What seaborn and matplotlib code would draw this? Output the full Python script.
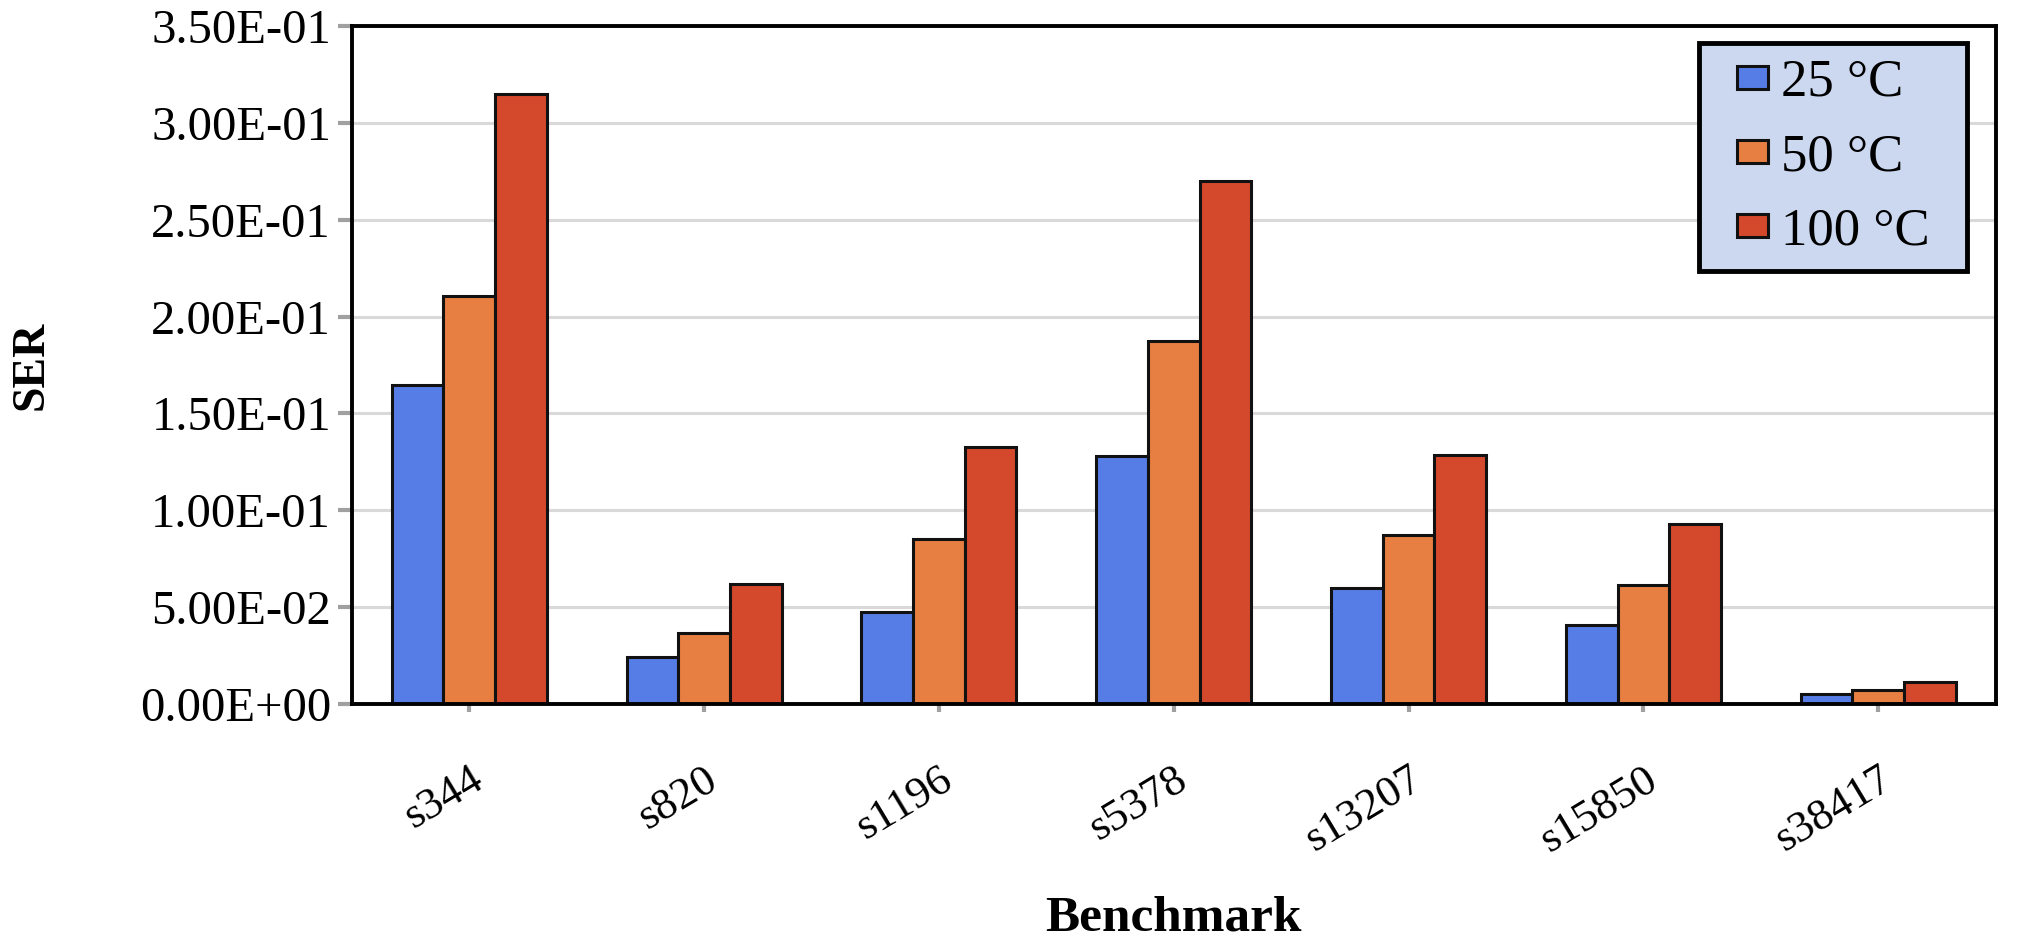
import pandas as pd
import matplotlib
matplotlib.use("Agg")
import matplotlib.pyplot as plt
from matplotlib.patches import Rectangle
from matplotlib.legend_handler import HandlerPatch
from matplotlib.transforms import IdentityTransform
from matplotlib.ticker import FuncFormatter, MultipleLocator
import seaborn as sns

# Data
benchmarks = ["s344", "s820", "s1196", "s5378", "s13207", "s15850", "s38417"]
temps = ["25 °C", "50 °C", "100 °C"]
ser_25 = [0.1647, 0.0240, 0.0473, 0.1280, 0.0600, 0.0407, 0.0053]
ser_50 = [0.2107, 0.0367, 0.0853, 0.1873, 0.0873, 0.0613, 0.0073]
ser_100 = [0.3147, 0.0620, 0.1327, 0.2700, 0.1287, 0.0927, 0.0113]
colors = ["#567de6", "#e67f41", "#d4482c"]

# Long format for seaborn
df = pd.DataFrame({
    "Benchmark": benchmarks * 3,
    "Temp": [temps[0]] * 7 + [temps[1]] * 7 + [temps[2]] * 7,
    "SER": ser_25 + ser_50 + ser_100,
})

sns.set_style("white", {"text.color": "black", "axes.labelcolor": "black"})
plt.rcParams["font.family"] = ["Liberation Serif", "DejaVu Serif"]

fig = plt.figure(figsize=(20.22, 9.49), dpi=100)
ax = fig.add_axes([0.174, 0.2582, 0.813, 0.7144])

sns.barplot(data=df, x="Benchmark", y="SER", hue="Temp", hue_order=temps,
            palette=colors, width=0.66, saturation=1,
            edgecolor="#111111", linewidth=2.2, ax=ax)

# Axes styling
ax.set_ylim(0, 0.35)
ax.set_xlim(-0.5, len(benchmarks) - 0.5)
ax.yaxis.set_major_locator(MultipleLocator(0.05))
ax.yaxis.set_major_formatter(FuncFormatter(lambda v, p: f"{v:.2E}"))
ax.yaxis.grid(True, color="#d9d9d9", linewidth=2.2)
ax.set_axisbelow(True)

for s in ax.spines.values():
    s.set_visible(True)
    s.set_color("black")
    s.set_linewidth(2.8)

ax.tick_params(axis="y", direction="out", length=10, width=3, color="#a0a0a0",
               labelcolor="black", pad=5, labelsize=35, left=True)
ax.tick_params(axis="x", direction="out", length=6, width=3, color="#a0a0a0",
               labelcolor="black", pad=34, labelsize=32, bottom=True)
ax.set_xticks(range(len(benchmarks)))
ax.set_xticklabels(benchmarks, rotation=31, ha="right", rotation_mode="anchor")

# Axis labels
ax.set_xlabel("Benchmark", fontsize=37, fontweight="bold")
ax.set_ylabel("SER", fontsize=33, fontweight="bold")
ax.xaxis.set_label_coords(0.5, -0.316)
ax.xaxis.label.set_va("center")
ax.yaxis.set_label_coords(-0.195, 0.5)
ax.yaxis.label.set_va("center")


# Legend swatches: small squares
def swatch(legend, orig_handle, xdescent, ydescent, width, height, fontsize):
    w, h = 22, 16.5
    return Rectangle((-xdescent + width - w, -ydescent + (height - h) / 2), w, h)


handles, labels = ax.get_legend_handles_labels()
leg = ax.legend(handles, labels, loc="upper right", bbox_to_anchor=(0.9696, 0.975),
                fontsize=38, frameon=False,
                handlelength=0.6, handleheight=0.5, handletextpad=0.26,
                labelspacing=0.5, borderpad=0.3, borderaxespad=0,
                handler_map={h: HandlerPatch(patch_func=swatch) for h in handles})

# Frame behind the legend, with wider side padding than top/bottom
fig.canvas.draw()
bb = leg.get_window_extent()
padx = 21
frame = Rectangle((bb.x0 - padx, bb.y0), bb.width + 2 * padx, bb.height,
                  transform=IdentityTransform(), facecolor="#cbd8ef",
                  edgecolor="black", linewidth=3.5, zorder=4.9)
ax.add_artist(frame)

fig.savefig("out.png", dpi=100)
